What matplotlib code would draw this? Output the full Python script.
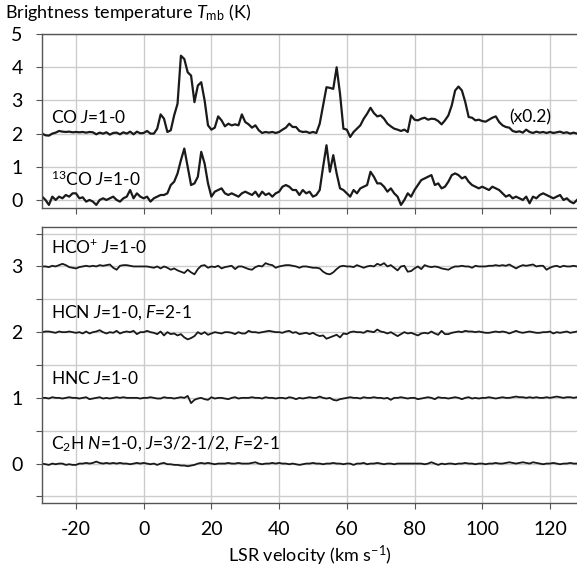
import numpy as np
import matplotlib
matplotlib.use('Agg')
import matplotlib.pyplot as plt

plt.rcParams['font.family'] = ['Lato', 'DejaVu Sans']
plt.rcParams['mathtext.fontset'] = 'custom'
plt.rcParams['mathtext.rm'] = 'Lato'
plt.rcParams['mathtext.it'] = 'Lato:italic'
plt.rcParams['axes.unicode_minus'] = False

# LSR velocity channels (km/s)
velocity = np.arange(-30, 129, 1)

# CO J=1-0, already multiplied by 0.2 (plotted on top of offset 2)
co_x02 = [
    0.00, -0.05, -0.06, 0.00, 0.03, 0.08, 0.06, 0.05, 0.06, 0.04,
    0.05, 0.04, 0.05, 0.03, 0.05, 0.04, -0.02, 0.03, 0.00, 0.04,
    -0.03, 0.02, 0.03, -0.02, 0.04, 0.00, 0.06, -0.02, 0.06, 0.01,
    0.02, 0.08, 0.00, 0.00, 0.15, 0.58, 0.45, 0.05, 0.10, 0.55,
    0.90, 2.35, 2.25, 1.85, 1.75, 0.95, 1.45, 1.55, 1.00, 0.25,
    0.12, 0.18, 0.52, 0.40, 0.22, 0.30, 0.25, 0.28, 0.25, 0.58,
    0.35, 0.28, 0.18, 0.25, 0.10, 0.02, 0.05, 0.03, 0.05, 0.02,
    0.05, 0.12, 0.18, 0.30, 0.20, 0.20, 0.08, 0.05, 0.06, 0.02,
    0.05, 0.02, 0.30, 0.85, 1.40, 1.38, 1.35, 2.00, 1.20, 0.15,
    0.12, -0.10, 0.05, 0.15, 0.25, 0.45, 0.60, 0.78, 0.62, 0.52,
    0.55, 0.45, 0.30, 0.22, 0.15, 0.12, 0.08, 0.12, 0.05, 0.55,
    0.42, 0.40, 0.45, 0.48, 0.42, 0.45, 0.44, 0.38, 0.28, 0.40,
    0.55, 0.85, 1.30, 1.42, 1.30, 0.95, 0.50, 0.48, 0.40, 0.42,
    0.38, 0.36, 0.42, 0.48, 0.52, 0.35, 0.25, 0.20, 0.18, 0.08,
    0.05, 0.07, 0.03, 0.12, 0.05, 0.02, 0.06, 0.03, 0.05, 0.02,
    0.05, 0.02, 0.04, 0.06, 0.02, 0.04, 0.00, 0.03, 0.00,
]

co13 = [
    0.10, 0.00, -0.15, 0.10, 0.00, 0.10, 0.05, 0.15, 0.10, 0.20,
    0.20, 0.05, 0.08, -0.05, 0.00, -0.05, -0.15, 0.00, 0.05, 0.00,
    0.05, 0.10, 0.00, -0.05, 0.05, 0.10, 0.30, 0.05, 0.20, 0.10,
    0.05, 0.10, -0.05, 0.05, 0.10, 0.15, 0.15, 0.20, 0.45, 0.55,
    0.80, 1.20, 1.55, 1.00, 0.45, 0.50, 0.70, 1.45, 1.10, 0.50,
    0.10, 0.25, 0.30, 0.35, 0.20, 0.15, 0.20, 0.15, 0.10, 0.20,
    0.25, 0.20, 0.15, 0.25, 0.10, 0.25, 0.15, 0.20, 0.10, 0.20,
    0.25, 0.40, 0.45, 0.40, 0.30, 0.30, 0.15, 0.30, 0.20, 0.25,
    0.10, 0.15, 0.30, 1.00, 1.65, 0.85, 1.35, 0.80, 0.35, 0.30,
    0.20, 0.10, 0.30, 0.20, 0.35, 0.40, 0.45, 0.85, 0.70, 0.50,
    0.50, 0.40, 0.25, 0.35, 0.20, 0.10, -0.15, 0.00, 0.20, 0.10,
    0.30, 0.45, 0.60, 0.65, 0.70, 0.75, 0.45, 0.50, 0.35, 0.40,
    0.55, 0.75, 0.80, 0.75, 0.65, 0.70, 0.55, 0.45, 0.40, 0.35,
    0.40, 0.35, 0.30, 0.40, 0.35, 0.30, 0.20, 0.10, 0.15, 0.05,
    0.10, 0.05, 0.00, 0.10, -0.10, 0.10, 0.05, 0.15, 0.20, 0.15,
    0.10, 0.05, 0.10, 0.15, 0.00, 0.05, -0.05, -0.10, 0.00,
]

hcop = [
    0.00, 0.00, -0.01, 0.01, 0.00, 0.02, 0.04, 0.02, -0.01, -0.02,
    -0.03, -0.01, 0.00, 0.01, 0.00, 0.01, 0.00, 0.02, 0.01, 0.02,
    0.03, -0.02, -0.05, 0.01, 0.02, 0.02, 0.01, 0.00, 0.00, 0.00,
    0.00, 0.00, -0.01, -0.02, 0.00, -0.03, 0.00, -0.02, -0.05, -0.03,
    -0.06, -0.08, -0.10, -0.05, -0.09, -0.12, -0.04, 0.01, 0.02, -0.02,
    0.00, -0.01, 0.01, -0.03, -0.01, 0.00, 0.01, -0.04, 0.00, 0.00,
    -0.02, -0.04, -0.05, -0.01, 0.01, 0.00, 0.05, 0.03, 0.02, -0.02,
    0.00, 0.01, 0.02, 0.02, 0.01, 0.00, -0.02, 0.00, 0.00, -0.01,
    -0.02, -0.02, -0.03, -0.08, -0.11, -0.12, -0.09, -0.04, 0.00, 0.01,
    0.00, 0.00, -0.01, 0.02, 0.00, -0.02, 0.00, 0.01, 0.00, 0.04,
    0.02, 0.05, 0.00, 0.02, -0.02, -0.06, 0.00, 0.01, -0.08, -0.07,
    -0.03, 0.00, -0.04, 0.02, 0.00, -0.01, 0.00, -0.01, -0.03, -0.04,
    -0.05, -0.02, 0.00, 0.00, 0.01, 0.00, 0.00, -0.02, 0.01, 0.00,
    0.00, 0.00, 0.01, 0.01, 0.02, 0.01, 0.02, 0.01, 0.03, 0.00,
    -0.03, 0.00, 0.02, 0.01, 0.02, 0.03, 0.00, 0.01, 0.01, -0.05,
    -0.02, 0.00, 0.01, -0.01, 0.01, 0.00, 0.00, 0.01, 0.00,
]

hcn = [
    0.00, 0.01, 0.01, 0.00, -0.01, 0.01, 0.00, 0.00, 0.01, 0.00,
    -0.01, 0.00, -0.02, 0.01, -0.02, 0.00, 0.01, 0.03, 0.00, -0.02,
    0.00, -0.01, 0.02, -0.02, 0.00, 0.01, 0.00, 0.02, -0.03, 0.00,
    0.00, 0.02, 0.00, -0.01, -0.03, 0.01, -0.05, 0.00, -0.03, -0.02,
    -0.05, -0.03, -0.08, -0.11, -0.09, -0.06, 0.00, -0.03, 0.00, -0.04,
    -0.02, 0.00, -0.01, -0.02, 0.00, 0.00, -0.01, -0.03, 0.00, -0.02,
    -0.02, 0.02, 0.00, 0.00, -0.01, 0.00, 0.01, 0.02, 0.01, 0.00,
    0.00, -0.01, 0.01, 0.02, -0.01, 0.00, -0.03, -0.02, -0.01, -0.03,
    -0.01, -0.04, -0.06, -0.05, -0.10, -0.08, -0.06, -0.04, -0.08, -0.02,
    -0.03, 0.00, 0.01, 0.00, 0.00, -0.01, 0.02, 0.01, 0.00, 0.04,
    0.01, 0.00, -0.02, 0.00, -0.03, -0.06, -0.03, 0.00, -0.02, -0.01,
    -0.03, -0.05, -0.02, -0.01, -0.02, 0.01, -0.02, -0.04, 0.02, -0.03,
    -0.03, -0.01, 0.00, 0.01, 0.00, 0.02, 0.01, 0.01, 0.00, 0.01,
    0.00, -0.01, -0.01, 0.00, 0.01, 0.00, 0.01, 0.00, -0.02, 0.00,
    0.02, 0.00, -0.01, 0.00, 0.01, 0.00, -0.01, -0.01, 0.00, 0.00,
    0.01, -0.02, 0.00, -0.01, 0.00, 0.01, -0.01, 0.00, 0.01,
]

hnc = [
    0.00, 0.00, -0.01, 0.01, 0.00, 0.00, -0.01, 0.00, 0.01, 0.00,
    0.00, -0.01, 0.00, 0.01, -0.02, -0.01, 0.00, 0.01, -0.01, 0.00,
    -0.01, 0.00, 0.01, 0.00, 0.01, 0.00, 0.00, 0.00, 0.00, -0.01,
    0.00, 0.00, 0.01, 0.00, -0.01, -0.01, 0.01, 0.00, 0.00, -0.01,
    0.00, 0.01, 0.00, 0.03, -0.08, -0.03, -0.01, 0.00, -0.02, -0.03,
    0.01, -0.01, 0.00, 0.00, -0.01, -0.02, 0.00, 0.01, -0.01, 0.00,
    0.00, 0.00, 0.01, 0.00, 0.00, -0.01, 0.01, 0.00, 0.00, -0.01,
    0.00, 0.00, -0.01, 0.01, 0.00, -0.02, 0.00, -0.01, 0.00, 0.01,
    0.00, 0.00, 0.02, 0.00, -0.01, 0.00, -0.03, -0.04, -0.02, -0.01,
    0.00, 0.01, 0.00, 0.00, -0.01, 0.01, 0.00, 0.00, 0.01, 0.00,
    0.00, -0.01, 0.00, -0.03, 0.00, 0.00, 0.01, 0.00, -0.01, 0.00,
    0.00, -0.02, -0.01, 0.00, 0.01, 0.00, -0.02, 0.01, 0.00, 0.00,
    -0.01, 0.00, 0.01, 0.00, -0.02, 0.00, 0.01, -0.01, 0.00, -0.01,
    0.00, 0.00, 0.01, 0.00, -0.01, 0.00, 0.01, 0.00, 0.00, 0.01,
    0.02, 0.01, 0.01, 0.00, 0.01, 0.00, 0.01, 0.00, 0.00, 0.01,
    0.00, 0.01, 0.02, 0.01, 0.00, 0.01, 0.01, 0.00, 0.01,
]

c2h = [
    0.00, -0.01, -0.02, 0.00, -0.01, 0.00, 0.00, -0.02, -0.01, -0.02,
    -0.02, 0.00, 0.00, 0.01, 0.00, 0.01, 0.03, 0.01, 0.00, 0.01,
    0.00, 0.01, 0.00, 0.01, 0.00, 0.00, -0.01, 0.00, 0.01, 0.00,
    0.01, 0.00, -0.01, 0.00, -0.02, 0.00, 0.01, -0.01, -0.01, -0.02,
    -0.02, -0.03, -0.03, -0.04, -0.03, -0.02, 0.00, 0.01, 0.00, 0.01,
    0.00, -0.01, 0.00, 0.00, 0.00, 0.01, 0.00, 0.00, 0.01, 0.00,
    0.00, 0.00, 0.01, 0.02, 0.00, -0.01, 0.00, 0.00, 0.01, 0.00,
    0.01, 0.00, 0.00, -0.01, 0.00, -0.01, -0.02, -0.01, 0.00, 0.00,
    0.01, 0.00, 0.00, -0.01, 0.00, 0.00, 0.01, 0.00, 0.00, -0.01,
    0.00, 0.00, -0.02, 0.00, 0.00, 0.01, -0.01, 0.00, 0.00, 0.01,
    0.00, -0.01, 0.00, 0.00, -0.01, 0.00, 0.00, 0.00, 0.00, 0.00,
    0.00, 0.00, 0.00, -0.01, 0.00, 0.02, 0.00, -0.02, 0.00, -0.01,
    0.00, 0.00, -0.01, 0.00, 0.00, 0.01, 0.00, 0.00, -0.01, 0.00,
    0.00, -0.01, 0.00, 0.00, 0.01, 0.00, 0.00, 0.01, 0.02, 0.01,
    0.00, 0.01, 0.02, 0.01, 0.00, 0.02, 0.01, 0.00, -0.01, 0.00,
    0.00, 0.01, 0.00, -0.01, 0.00, 0.00, 0.01, 0.00, 0.00,
]

top_labels = ['CO $\\mathit{J}$=1-0', '$^{13}$CO $\\mathit{J}$=1-0']
top_offsets = [2, 0]
bot_labels = ['HCO$^{+}$ $\\mathit{J}$=1-0',
              'HCN $\\mathit{J}$=1-0, $\\mathit{F}$=2-1',
              'HNC $\\mathit{J}$=1-0',
              'C$_{2}$H $\\mathit{N}$=1-0, $\\mathit{J}$=3/2-1/2, $\\mathit{F}$=2-1']
bot_offsets = [3, 2, 1, 0]

line_col = '#1a1a1a'
grid_col = '#cccccc'
spine_col = '#555555'

fig = plt.figure(figsize=(5.77, 5.69), dpi=100)
ax1 = fig.add_axes([0.073, 0.634, 0.927, 0.306])
ax2 = fig.add_axes([0.073, 0.116, 0.927, 0.485])

def style(ax):
    ax.set_xlim(-30, 128)
    ax.set_xticks(np.arange(-20, 121, 20))
    ax.grid(True, color=grid_col, lw=1.0)
    ax.set_axisbelow(True)
    ax.spines['right'].set_visible(False)
    for s in ['left', 'bottom', 'top']:
        ax.spines[s].set_color(spine_col)
        ax.spines[s].set_linewidth(1.0)
    ax.tick_params(direction='out', length=4, color=spine_col, labelsize=14)
    ax.tick_params(axis='y', pad=10)
    ax.tick_params(axis='x', pad=9)

style(ax1)
ax1.set_ylim(-0.25, 5)
ax1.set_yticks([0, 1, 2, 3, 4, 5])
ax1.tick_params(axis='x', labelbottom=False)
ax1.plot(velocity, top_offsets[0] + np.array(co_x02), color=line_col, lw=1.6)
ax1.plot(velocity, top_offsets[1] + np.array(co13), color=line_col, lw=1.6)
ax1.text(-27.3, 2.5, top_labels[0], fontsize=12.5, va='center')
ax1.text(-27.3, 0.62, top_labels[1], fontsize=12.5, va='center')
ax1.text(108, 2.5, '(x0.2)', fontsize=12.5, va='center')

style(ax2)
ax2.set_ylim(-0.6, 3.6)
ax2.set_yticks(np.arange(-0.5, 3.51, 0.5))
ax2.set_yticklabels(['' if t % 1 else str(int(t)) for t in np.arange(-0.5, 3.51, 0.5)])
for vals, off, lab in zip([hcop, hcn, hnc, c2h], bot_offsets, bot_labels):
    ax2.plot(velocity, off + np.array(vals), color=line_col, lw=1.3)
    ax2.text(-27.3, off + 0.3, lab, fontsize=12.5, va='center')
ax2.set_xlabel('LSR velocity (km s$^{-1}$)', fontsize=13, labelpad=4)

fig.text(0.009, 0.978, 'Brightness temperature $\\mathit{T}_{\\mathrm{mb}}$ (K)', fontsize=13, va='center')

fig.savefig('out.png', dpi=100)
